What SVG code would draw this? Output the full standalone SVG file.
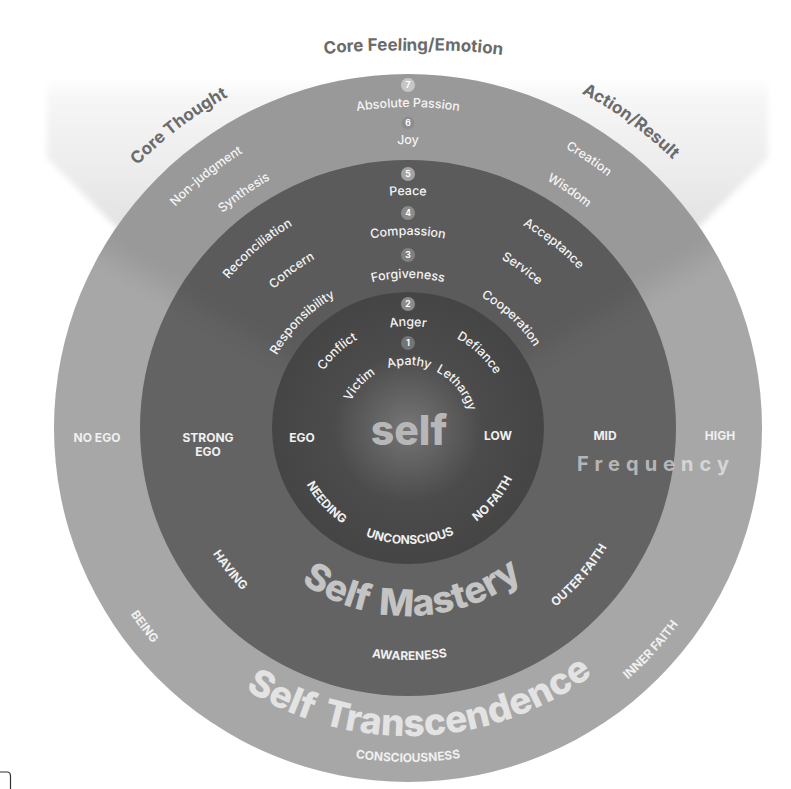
<svg xmlns="http://www.w3.org/2000/svg" xmlns:xlink="http://www.w3.org/1999/xlink" width="791" height="789" viewBox="0 0 791 789">
<defs>
<style>
text{font-family:Inter,"Liberation Sans",sans-serif;text-anchor:middle}
.lbl{font-size:12.5px;font-weight:500;fill:#f4f4f4}
.cap{font-size:12px;font-weight:700;fill:#f0f0f0}
.head{font-size:17px;font-weight:700;fill:#6b6b6b}
.big{font-size:37px;font-weight:800;word-spacing:4px}
.num{font-size:8.5px;font-weight:700;fill:#ffffff}
</style>
<linearGradient id="coneG" x1="0" y1="78" x2="0" y2="240" gradientUnits="userSpaceOnUse">
<stop offset="0" stop-color="#ffffff"/><stop offset="0.12" stop-color="#f6f6f6"/><stop offset="0.5" stop-color="#eeeeee"/><stop offset="1" stop-color="#e0e0e0"/>
</linearGradient>
<radialGradient id="glow" cx="408" cy="428" r="136" gradientUnits="userSpaceOnUse">
<stop offset="0" stop-color="#767676"/><stop offset="0.25" stop-color="#626262"/><stop offset="0.55" stop-color="#4b4b4b"/><stop offset="1" stop-color="#454545"/>
</radialGradient>
<filter id="soft" x="-20%" y="-20%" width="140%" height="140%"><feGaussianBlur stdDeviation="3"/></filter>
<filter id="soft2" x="-20%" y="-20%" width="140%" height="140%"><feGaussianBlur stdDeviation="12"/></filter>
<clipPath id="ann"><path clip-rule="evenodd" d="M54,428 A354,354 0 1 1 762,428 A354,354 0 1 1 54,428 Z M272,428 A136,136 0 1 0 544,428 A136,136 0 1 0 272,428 Z"/></clipPath>
<path id="hF" d="M410,1110 A530,530 0 1 1 410,51 A530,530 0 1 1 410,1110"/>
<path id="t377" d="M408,805 A377,377 0 1 1 408,51 A377,377 0 1 1 408,805"/>
<path id="t321" d="M408,749 A321,321 0 1 1 408,107 A321,321 0 1 1 408,749"/>
<path id="t284" d="M408,712 A284,284 0 1 1 408,144 A284,284 0 1 1 408,712"/>
<path id="t233" d="M408,661 A233,233 0 1 1 408,195 A233,233 0 1 1 408,661"/>
<path id="t193" d="M408,621 A193,193 0 1 1 408,235 A193,193 0 1 1 408,621"/>
<path id="t150" d="M408,578 A150,150 0 1 1 408,278 A150,150 0 1 1 408,578"/>
<path id="t102" d="M408,530 A102,102 0 1 1 408,326 A102,102 0 1 1 408,530"/>
<path id="t63" d="M408,491 A63,63 0 1 1 408,365 A63,63 0 1 1 408,491"/>
<path id="b116" d="M408,312 A116,116 0 1 0 408,544 A116,116 0 1 0 408,312"/>
<path id="b188" d="M408,240 A188,188 0 1 0 408,616 A188,188 0 1 0 408,240"/>
<path id="b232" d="M408,196 A232,232 0 1 0 408,660 A232,232 0 1 0 408,196"/>
<path id="b308" d="M408,120 A308,308 0 1 0 408,736 A308,308 0 1 0 408,120"/>
<path id="b334" d="M408,94 A334,334 0 1 0 408,762 A334,334 0 1 0 408,94"/>
</defs>
<rect width="791" height="789" fill="#ffffff"/>
<g id="cone">
<polygon points="47,78 768,78 768,158 408,518 47,158" fill="url(#coneG)" filter="url(#soft)"/>
</g>
<g id="ring-transcendence">
<circle cx="408" cy="428" r="354" fill="#a7a7a7"/>
</g>
<g id="ring-mastery">
<circle cx="408" cy="428" r="268" fill="#636363"/>
</g>
<g id="shade" clip-path="url(#ann)">
<path d="M408,428 L-25,178 L-25,-100 L841,-100 L841,178 Z" fill="#000000" opacity="0.08" filter="url(#soft2)"/>
</g>
<g id="core-self">
<circle cx="408" cy="428" r="136" fill="url(#glow)"/>
</g>
<g id="headings">
<text class="head"><textPath xlink:href="#t377" href="#t377" startOffset="39.67%">Core Thought</textPath></text>
<text class="head"><textPath xlink:href="#hF" href="#hF" startOffset="50.1%">Core Feeling/Emotion</textPath></text>
<text class="head"><textPath xlink:href="#t377" href="#t377" startOffset="60%">Action/Result</textPath></text>
</g>
<g id="badges">
<circle cx="408" cy="85" r="7" fill="#c6c6c6"/><text class="num" x="408" y="88">7</text>
<circle cx="408" cy="123" r="6.5" fill="#8d8d8d"/><text class="num" x="408" y="126">6</text>
<circle cx="408" cy="174" r="7" fill="#a3a3a3"/><text class="num" x="408" y="177">5</text>
<circle cx="408" cy="213" r="7" fill="#8b8b8b"/><text class="num" x="408" y="216">4</text>
<circle cx="408" cy="255" r="7" fill="#808080"/><text class="num" x="408" y="258">3</text>
<circle cx="408" cy="304" r="7" fill="#8b8b8b"/><text class="num" x="408" y="307">2</text>
<circle cx="408" cy="343" r="7" fill="#747474"/><text class="num" x="408" y="346">1</text>
</g>
<g id="outer-labels">
<text class="lbl"><textPath xlink:href="#t321" href="#t321" startOffset="50%">Absolute Passion</textPath></text>
<text class="lbl"><textPath xlink:href="#t284" href="#t284" startOffset="50%">Joy</textPath></text>
<text class="lbl"><textPath xlink:href="#t321" href="#t321" startOffset="39.25%">Non-judgment</textPath></text>
<text class="lbl"><textPath xlink:href="#t284" href="#t284" startOffset="40.31%">Synthesis</textPath></text>
<text class="lbl"><textPath xlink:href="#t321" href="#t321" startOffset="59.42%">Creation</textPath></text>
<text class="lbl"><textPath xlink:href="#t284" href="#t284" startOffset="59.5%">Wisdom</textPath></text>
<text class="cap" x="97" y="442">NO EGO</text>
<text class="cap" x="720" y="440">HIGH</text>
<text class="cap"><textPath xlink:href="#b334" href="#b334" startOffset="35.28%">BEING</textPath></text>
<text class="cap"><textPath xlink:href="#b334" href="#b334" startOffset="50%">CONSCIOUSNESS</textPath></text>
<text class="cap"><textPath xlink:href="#b334" href="#b334" startOffset="63.22%">INNER FAITH</textPath></text>
<text class="big" fill="#e3e3e3"><textPath xlink:href="#b308" href="#b308" startOffset="50.69%">Self Transcendence</textPath></text>
</g>
<g id="middle-labels">
<text class="lbl"><textPath xlink:href="#t233" href="#t233" startOffset="50%">Peace</textPath></text>
<text class="lbl"><textPath xlink:href="#t193" href="#t193" startOffset="50%">Compassion</textPath></text>
<text class="lbl"><textPath xlink:href="#t150" href="#t150" startOffset="50%">Forgiveness</textPath></text>
<text class="lbl"><textPath xlink:href="#t233" href="#t233" startOffset="38.89%">Reconciliation</textPath></text>
<text class="lbl"><textPath xlink:href="#t193" href="#t193" startOffset="39.89%">Concern</textPath></text>
<text class="lbl"><textPath xlink:href="#t150" href="#t150" startOffset="37.5%">Responsibility</textPath></text>
<text class="lbl"><textPath xlink:href="#t233" href="#t233" startOffset="60.64%">Acceptance</textPath></text>
<text class="lbl"><textPath xlink:href="#t193" href="#t193" startOffset="59.89%">Service</textPath></text>
<text class="lbl"><textPath xlink:href="#t150" href="#t150" startOffset="62%">Cooperation</textPath></text>
<text class="cap" x="208" y="442">STRONG</text>
<text class="cap" x="208" y="456">EGO</text>
<text class="cap" x="605" y="440">MID</text>
<text x="577" y="471" style="text-anchor:start;font-size:20px;font-weight:700;fill:#ffffff;fill-opacity:0.55" textLength="152" lengthAdjust="spacing">Frequency</text>
<text class="cap"><textPath xlink:href="#b232" href="#b232" startOffset="35.72%">HAVING</textPath></text>
<text class="cap"><textPath xlink:href="#b232" href="#b232" startOffset="50.1%">AWARENESS</textPath></text>
<text class="cap"><textPath xlink:href="#b232" href="#b232" startOffset="63.69%">OUTER FAITH</textPath></text>
<text class="big" fill="#c4c4c4"><textPath xlink:href="#b188" href="#b188" startOffset="50.4%">Self Mastery</textPath></text>
</g>
<g id="inner-labels">
<text class="lbl"><textPath xlink:href="#t102" href="#t102" startOffset="50%">Anger</textPath></text>
<text class="lbl"><textPath xlink:href="#t63" href="#t63" startOffset="50.28%">Apathy</textPath></text>
<text class="lbl"><textPath xlink:href="#t102" href="#t102" startOffset="38.14%">Conflict</textPath></text>
<text class="lbl"><textPath xlink:href="#t63" href="#t63" startOffset="36.67%">Victim</textPath></text>
<text class="lbl"><textPath xlink:href="#t102" href="#t102" startOffset="62.08%">Defiance</textPath></text>
<text class="lbl"><textPath xlink:href="#t63" href="#t63" startOffset="64%">Lethargy</textPath></text>
<text class="cap" x="302" y="442">EGO</text>
<text class="cap" x="498" y="440">LOW</text>
<text class="cap"><textPath xlink:href="#b116" href="#b116" startOffset="36.78%">NEEDING</textPath></text>
<text class="cap"><textPath xlink:href="#b116" href="#b116" startOffset="50.28%">UNCONSCIOUS</textPath></text>
<text class="cap"><textPath xlink:href="#b116" href="#b116" startOffset="63.94%">NO FAITH</textPath></text>
<text x="409" y="445" style="font-size:41px;font-weight:800;fill:#b7b7b7">self</text>
</g>
<g id="corner">
<path d="M0,772 H7 Q10.5,772 10.5,776 V789" fill="none" stroke="#333333" stroke-width="1.2"/>
</g>
</svg>
